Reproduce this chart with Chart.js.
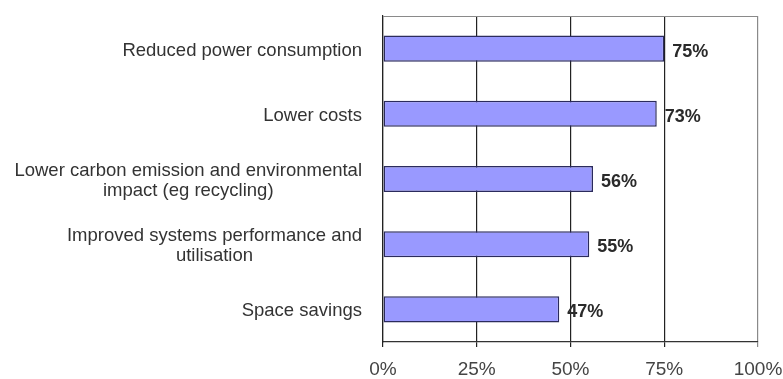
<!DOCTYPE html>
<html>
<head>
<meta charset="utf-8">
<script src="https://cdn.jsdelivr.net/npm/chart.js@4/dist/chart.umd.min.js"></script>
<style>
  html, body { margin: 0; padding: 0; background: #fff; }
  #benefits-chart { display: block; }
</style>
</head>
<body>
<canvas id="benefits-chart" width="783" height="379"></canvas>
<script>
// Perceived benefits, share of respondents
const categories = [
    ['Reduced power consumption'],
    ['Lower costs'],
    ['Lower carbon emission and environmental', 'impact (eg recycling)'],
    ['Improved systems performance and', 'utilisation'],
    ['Space savings']
];
const shares = [75, 73, 56, 55, 47];
const axisMax = 100;
const axisStep = 25;

const FONT = 'Arial, "Liberation Sans", sans-serif';

// category text: each block right-aligned against the axis, lines centred inside the block
const categoryLabels = {
    id: 'categoryLabels',
    afterDraw(chart) {
        const ctx = chart.ctx;
        const yScale = chart.scales.y;
        const right = chart.chartArea.left - 21;
        ctx.save();
        ctx.font = '18.5px ' + FONT;
        ctx.fillStyle = '#333';
        ctx.textAlign = 'center';
        ctx.textBaseline = 'middle';
        const lineH = 20;
        categories.forEach((lines, i) => {
            const cy = yScale.getPixelForTick(i) + 2;
            const w = Math.max(...lines.map(l => ctx.measureText(l).width));
            const cx = right - w / 2;
            const y0 = cy - (lines.length - 1) * lineH / 2;
            lines.forEach((l, j) => ctx.fillText(l, cx, y0 + j * lineH));
        });
        ctx.restore();
    }
};

// percentage printed just past the end of each bar
const valueLabels = {
    id: 'valueLabels',
    afterDatasetsDraw(chart) {
        const ctx = chart.ctx;
        const meta = chart.getDatasetMeta(0);
        ctx.save();
        ctx.font = 'bold 18px ' + FONT;
        ctx.fillStyle = '#2a2a2a';
        ctx.textAlign = 'left';
        ctx.textBaseline = 'middle';
        meta.data.forEach((bar, i) => {
            ctx.fillText(shares[i] + '%', bar.x + 8, bar.y + 3);
        });
        ctx.restore();
    }
};

// grey frame line along the top of the plot
const topFrame = {
    id: 'topFrame',
    beforeDatasetsDraw(chart) {
        const { ctx, chartArea } = chart;
        ctx.save();
        ctx.strokeStyle = '#8a8a8a';
        ctx.lineWidth = 1;
        ctx.beginPath();
        ctx.moveTo(chartArea.left, chartArea.top + 0.5);
        ctx.lineTo(chartArea.right, chartArea.top + 0.5);
        ctx.stroke();
        ctx.restore();
    }
};

new Chart(document.getElementById('benefits-chart').getContext('2d'), {
    type: 'bar',
    data: {
        labels: categories,
        datasets: [{
            data: shares,
            backgroundColor: '#9999ff',
            borderColor: '#2b2b5c',
            borderWidth: 1.5,
            borderSkipped: false,
            barPercentage: 0.4,
            categoryPercentage: 1.0
        }]
    },
    options: {
        indexAxis: 'y',
        responsive: false,
        animation: false,
        devicePixelRatio: 1,
        layout: { padding: { top: 16, right: 25, left: 0, bottom: 0 } },
        plugins: { legend: { display: false }, tooltip: { enabled: false } },
        scales: {
            x: {
                min: 0,
                max: axisMax,
                afterFit: axis => {
                    axis.height = 37;
                    axis.paddingLeft = 0;
                    axis.paddingRight = 0;
                },
                ticks: {
                    stepSize: axisStep,
                    color: '#444',
                    font: { family: FONT, size: 19 },
                    padding: 11,
                    callback: v => v + '%'
                },
                grid: {
                    color: c => c.tick && c.tick.value === axisMax ? '#8a8a8a' : '#222',
                    lineWidth: 1.2,
                    tickLength: 5
                },
                border: { color: '#333', width: 1.2 }
            },
            y: {
                afterFit: axis => { axis.width = 383; },
                ticks: { display: false },
                grid: { display: false },
                border: { color: '#222', width: 1.2 }
            }
        }
    },
    plugins: [categoryLabels, valueLabels, topFrame]
});
</script>
</body>
</html>
